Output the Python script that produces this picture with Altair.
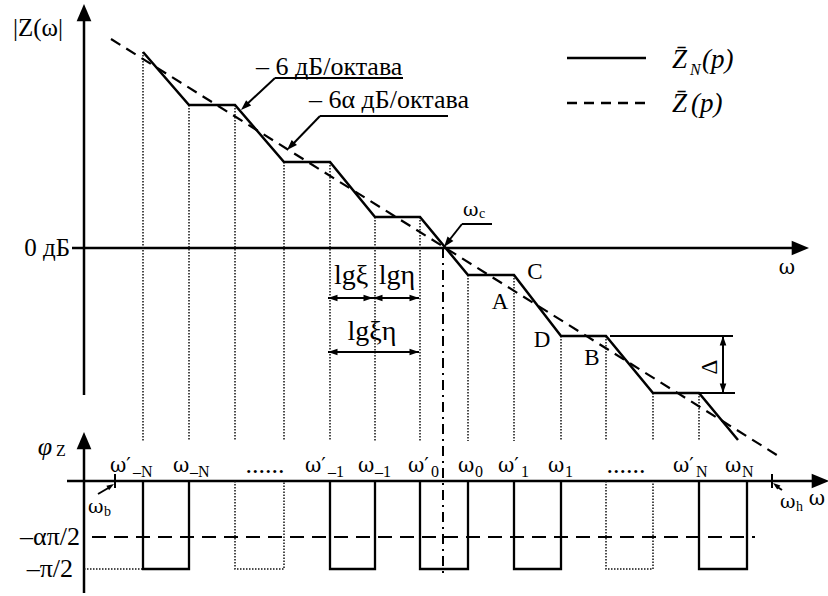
import math
import altair as alt
import pandas as pd

W, H = 828, 596
FONT = "Liberation Serif"
GFONT = "DejaVu Serif"

# ---------------- data (diagram units: x = log-frequency position, y = level, top-down) ----------------
# staircase approximation Z_N(p)
zn_x = [143, 189, 235, 284, 330, 375, 420, 468, 514, 561, 606, 653, 699, 738]
zn_y = [52, 105, 105, 162, 162, 217, 217, 275, 275, 336, 336, 393, 393, 440]
# ideal fractional characteristic Z(p)
z_x = [111, 780]
z_y = [39, 457]
# break frequencies and the level of the staircase there
brk_x = [143, 189, 235, 284, 330, 375, 420, 468, 514, 561, 606, 653, 699]
brk_y = [52, 105, 105, 162, 162, 217, 217, 275, 275, 336, 336, 393, 393]
brk_bottom = 441
# phase pulses (solid and omitted/dotted)
pulse_lo = [143, 330, 420, 514, 699]
pulse_hi = [189, 375, 468, 561, 747]
pulse_dot_lo = [235, 606]
pulse_dot_hi = [284, 653]
phase_zero, phase_alpha, phase_pi = 481, 537, 569
omega_c = (443, 248)
omega_b, omega_h = 115, 772
# frequency labels on the phase axis
lab_x = [110, 173, 305, 358, 408, 458, 498, 548, 673, 725]
lab_main = ["ω′", "ω", "ω′", "ω", "ω′", "ω", "ω′", "ω", "ω′", "ω"]
lab_sub = ["–N", "–N", "–1", "–1", "0", "0", "1", "1", "N", "N"]
dots_x = [265, 626]

# ---------------- helpers ----------------
def X(f="x"):
    return alt.X(f, type="quantitative", scale=alt.Scale(domain=[0, W], nice=False, zero=False), axis=None)

def Y(f="y"):
    return alt.Y(f, type="quantitative", scale=alt.Scale(domain=[0, H], nice=False, zero=False, reverse=True), axis=None)

def rules(segs, **kw):
    df = pd.DataFrame(segs, columns=["x", "y", "x2", "y2"])
    style = dict(color="black", strokeWidth=2.2)
    style.update(kw)
    return alt.Chart(df).mark_rule(**style).encode(x=X(), y=Y(), x2="x2", y2="y2")

def polyline(xs, ys, ids=None, **kw):
    n = len(xs)
    df = pd.DataFrame({"x": xs, "y": ys, "i": list(range(n)), "g": ids if ids else [0] * n})
    style = dict(color="black", strokeWidth=2.5, strokeJoin="miter")
    style.update(kw)
    return alt.Chart(df).mark_line(**style).encode(
        x=X(), y=Y(), order=alt.Order("i:Q"), detail="g:N")

ARROW = "M0,0L0.7,2L-0.7,2Z"
BIG_ARROW = "M0,0L0.85,2L-0.85,2Z"

def heads(pts, size=100, shape=ARROW):
    # pts: (tip_x, tip_y, from_x, from_y)
    rows = []
    for tx, ty, fx, fy in pts:
        dx, dy = tx - fx, ty - fy
        ang = math.degrees(math.atan2(dx, -dy)) % 360
        rows.append({"x": tx, "y": ty, "a": ang})
    df = pd.DataFrame(rows)
    return alt.Chart(df).mark_point(shape=shape, filled=True, size=size, color="black",
                                    opacity=1, strokeWidth=0).encode(
        x=X(), y=Y(), angle=alt.Angle("a:Q", scale=None))

def txt(rows, size=20, style="normal", align="center", baseline="middle", angle=0, font=FONT):
    df = pd.DataFrame(rows, columns=["x", "y", "t"])
    return alt.Chart(df).mark_text(font=font, fontSize=size, fontStyle=style, align=align,
                                   baseline=baseline, angle=angle, color="black").encode(
        x=X(), y=Y(), text="t:N")

layers = []

# ---------------- axes ----------------
layers.append(rules([(84, 18, 84, 395), (72, 248, 795, 248),
                     (84, 445, 84, 593), (67, 481, 815, 481)], strokeWidth=2.5))
layers.append(heads([(84, 4, 84, 30), (809, 248, 780, 248), (84, 432, 84, 460), (829, 481, 800, 481)],
                    size=300, shape=BIG_ARROW))

# ---------------- dotted break lines ----------------
layers.append(rules([(bx, by, bx, brk_bottom) for bx, by in zip(brk_x, brk_y)],
                    strokeWidth=1.5, strokeDash=[1.5, 1.5], color="#111"))
layers.append(rules([(84, phase_pi, pulse_lo[0], phase_pi)], strokeWidth=1.5, strokeDash=[1.5, 1.5], color="#111"))

# ---------------- curves ----------------
layers.append(polyline(zn_x, zn_y))
layers.append(polyline(z_x, z_y, strokeWidth=2.2, strokeDash=[11, 7]))

# ---------------- phase pulses ----------------
px, py, pg = [], [], []
for k, (a, b) in enumerate(zip(pulse_lo, pulse_hi)):
    px += [a, a, b, b]
    py += [phase_zero, phase_pi, phase_pi, phase_zero]
    pg += [k] * 4
layers.append(polyline(px, py, pg, strokeWidth=2.3))
qx, qy, qg = [], [], []
for k, (a, b) in enumerate(zip(pulse_dot_lo, pulse_dot_hi)):
    qx += [a, a, b, b]
    qy += [phase_zero, phase_pi, phase_pi, phase_zero]
    qg += [k] * 4
layers.append(polyline(qx, qy, qg, strokeWidth=1.5, strokeDash=[1.5, 1.5], color="#111"))
layers.append(rules([(92, phase_alpha, 755, phase_alpha)], strokeWidth=2.2, strokeDash=[14, 8]))

# dash-dot line through omega_c
layers.append(rules([(omega_c[0], omega_c[1], omega_c[0], 577)], strokeWidth=2, strokeDash=[10, 5, 2, 5]))

# ticks omega_b / omega_h
layers.append(rules([(omega_b, 474, omega_b, 488), (omega_h, 474, omega_h, 488)], strokeWidth=2))

# ---------------- leaders ----------------
layers.append(rules([(275, 78, 403, 78), (275, 78, 245, 106),
                     (320, 116, 448, 116), (320, 116, 291, 146),
                     (462, 224, 492, 224), (462, 224, 447, 243),
                     (98, 494, 110, 487), (782, 490, 776, 486)], strokeWidth=2))
layers.append(heads([(241, 110, 275, 78), (287, 150, 320, 116), (444, 247, 462, 224)], size=110))
layers.append(heads([(114, 484, 98, 494), (773, 483, 782, 490)], size=55))

# ---------------- dimension arrows ----------------
layers.append(rules([(328, 298, 419, 298), (328, 352, 419, 352), (723, 336, 723, 393),
                     (610, 336, 733, 336), (653, 393, 735, 393)], strokeWidth=2))
layers.append(heads([(328, 298, 340, 298), (373, 298, 360, 298), (373, 298, 386, 298), (419, 298, 406, 298),
                     (328, 352, 340, 352), (419, 352, 406, 352),
                     (723, 336, 723, 350), (723, 393, 723, 380)], size=90))

# ---------------- legend ----------------
layers.append(rules([(567, 58, 646, 58)], strokeWidth=2.5))
layers.append(rules([(567, 103, 646, 103)], strokeWidth=2.5, strokeDash=[10, 7]))
layers.append(txt([(672, 60, "Z̄"), (672, 104, "Z̄")], size=27, style="italic", align="left"))
layers.append(txt([(690, 70, "N")], size=16, style="italic", align="left"))
layers.append(txt([(702, 60, "(p)"), (691, 104, "(p)")], size=27, style="italic", align="left"))

# ---------------- texts ----------------
layers.append(txt([(38, 28, "|Z(ω|")], size=25))
layers.append(txt([(70, 248, "0 дБ")], size=25, align="right"))
layers.append(txt([(256, 67, "– 6 дБ/октава"), (309, 100, "– 6α  дБ/октава")], size=26, align="left"))
layers.append(txt([(787, 268, "ω"), (817, 499, "ω")], size=20, font=GFONT))
layers.append(txt([(463, 210, "ω"), (88, 507, "ω"), (780, 502, "ω")], size=19, align="left", font=GFONT))
layers.append(txt([(479, 214, "c"), (104, 512, "b"), (796, 507, "h")], size=14, align="left"))
layers.append(txt([(351, 276, "lgξ"), (397, 276, "lgη"), (372, 332, "lgξη")], size=28))
layers.append(txt([(535, 272, "C"), (500, 302, "A"), (542, 340, "D"), (592, 358, "B")], size=23))
layers.append(txt([(710, 367, "Δ")], size=23, angle=270))
layers.append(txt([(45, 447, "φ")], size=26, style="italic"))
layers.append(txt([(56, 451, "Z")], size=16, align="left"))
layers.append(txt([(80, 537, "–απ/2"), (73, 569, "–π/2")], size=26, align="right"))

# phase-axis frequency labels
main_rows = [(x, 466, m) for x, m in zip(lab_x, lab_main)]
sub_rows = [(x + (23 if m == "ω′" else 17), 472, s) for x, m, s in zip(lab_x, lab_main, lab_sub)]
layers.append(txt(main_rows, size=20, align="left", font=GFONT))
layers.append(txt(sub_rows, size=16, align="left"))
layers.append(txt([(x, 473, "......") for x in dots_x], size=26, baseline="alphabetic"))

chart = alt.layer(*layers).properties(width=W, height=H, padding=0, autosize="none").configure_view(stroke=None)
chart.save("out.html", embed_options={"renderer": "svg", "actions": False})
